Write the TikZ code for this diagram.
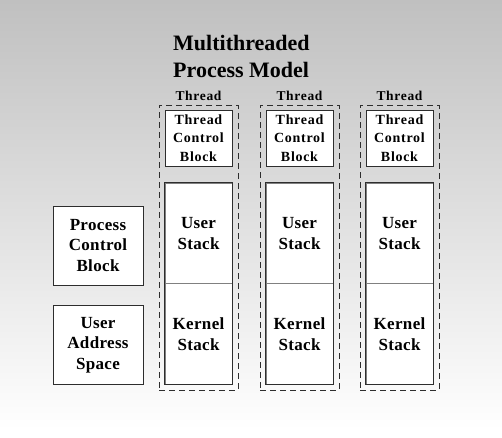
\documentclass[tikz,border=0pt]{standalone}
\usepackage{fontspec}
\setmainfont{Liberation Serif}
\definecolor{bgtop}{RGB}{192,192,192}
\definecolor{edge}{RGB}{45,45,45}
\begin{document}
\begin{tikzpicture}[x=1pt,y=-1pt,
  box/.style={draw=edge, line width=1pt, fill=white, inner sep=0pt, align=center,
    font=\bfseries\fontsize{17}{20.5}\selectfont\addfontfeature{LetterSpace=2}},
  tcbbox/.style={box, minimum width=67pt, minimum height=56pt,
    font=\bfseries\fontsize{14}{18.5}\selectfont\addfontfeature{LetterSpace=5}},
  stackbox/.style={box, draw=black!50, line width=0.7pt, minimum width=67pt, minimum height=100.5pt},
  procbox/.style={box, minimum width=90pt, minimum height=79pt},
  threadframe/.style={draw=edge, line width=1pt, dash pattern=on 6pt off 4pt,
    minimum width=79pt, minimum height=285pt, inner sep=0pt},
  threadlabel/.style={inner sep=0pt, font=\bfseries\fontsize{13.5}{16}\selectfont\addfontfeature{LetterSpace=5}},
  titlestyle/.style={inner sep=0pt, align=left, font=\bfseries\fontsize{22}{27}\selectfont}
]
\useasboundingbox (0,0) rectangle (502,437);
\shade[top color=bgtop, bottom color=white] (0,0) rectangle (502,430);
\fill[white] (0,430) rectangle (502,437);

\node[titlestyle, anchor=west] (title) at (173,56) {Multithreaded\\Process Model};

\node[procbox] (pcb) at (98,245.5) {Process\\Control\\Block};
\node[procbox] (uas) at (98,345) {User\\Address\\Space};

\foreach \i/\cx in {1/198.5, 2/299.5, 3/399.5} {
  \node[threadframe] (frame\i) at (\cx,247.5) {};
  \node[threadlabel] (tl\i) at (\cx,96) {Thread};
  \node[tcbbox] (tcb\i) at (\cx,138) {Thread\\Control\\Block};
  \node[stackbox] (us\i) at (\cx,233.5) {User\\Stack};
  \node[stackbox] (ks\i) at (\cx,334) {Kernel\\Stack};
  \draw[draw=edge, line width=1pt] (us\i.north west) rectangle (ks\i.south east);
}
\end{tikzpicture}
\end{document}
